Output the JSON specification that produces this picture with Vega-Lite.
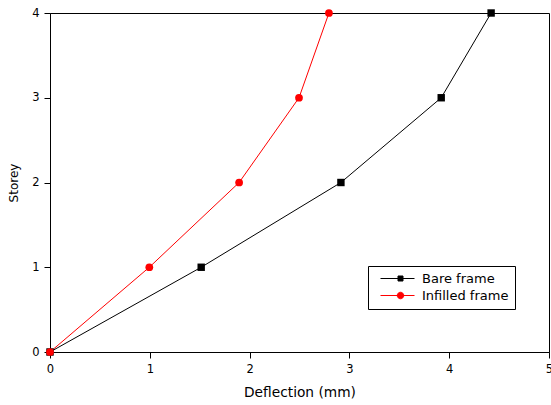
{
  "$schema": "https://vega.github.io/schema/vega-lite/v6.json",
  "width": 499,
  "height": 339,
  "autosize": {"type": "none"},
  "padding": {"left": 50, "top": 13, "right": 2, "bottom": 53},
  "background": "white",
  "config": {
    "view": {"stroke": "black", "strokeWidth": 1},
    "font": "DejaVu Sans",
    "axis": {
      "grid": false,
      "domainColor": "black",
      "tickColor": "black",
      "tickSize": 6,
      "labelColor": "black",
      "titleColor": "black",
      "labelFont": "DejaVu Sans",
      "titleFont": "DejaVu Sans",
      "labelFontSize": 11.5,
      "titleFontWeight": "normal",
      "labelOverlap": false,
      "labelFlush": false
    }
  },
  "data": {
    "values": [
      {"series": "Bare frame", "deflection": 0, "storey": 0},
      {"series": "Bare frame", "deflection": 1.515, "storey": 1},
      {"series": "Bare frame", "deflection": 2.915, "storey": 2},
      {"series": "Bare frame", "deflection": 3.92, "storey": 3},
      {"series": "Bare frame", "deflection": 4.42, "storey": 4},
      {"series": "Infilled frame", "deflection": 0, "storey": 0},
      {"series": "Infilled frame", "deflection": 0.995, "storey": 1},
      {"series": "Infilled frame", "deflection": 1.895, "storey": 2},
      {"series": "Infilled frame", "deflection": 2.495, "storey": 3},
      {"series": "Infilled frame", "deflection": 2.795, "storey": 4}
    ]
  },
  "encoding": {
    "x": {
      "field": "deflection",
      "type": "quantitative",
      "scale": {"domain": [0, 5], "nice": false, "zero": false},
      "axis": {"title": "Deflection (mm)", "titleFontSize": 13.75, "values": [0, 1, 2, 3, 4, 5], "labelPadding": 5, "titlePadding": 11}
    },
    "y": {
      "field": "storey",
      "type": "quantitative",
      "scale": {"domain": [0, 4], "nice": false, "zero": false},
      "axis": {"title": "Storey", "titleFontSize": 12, "values": [0, 1, 2, 3, 4], "labelPadding": 5, "titlePadding": 11}
    }
  },
  "layer": [
    {
      "mark": {"type": "line", "strokeWidth": 1},
      "encoding": {
        "color": {
          "field": "series",
          "type": "nominal",
          "scale": {"domain": ["Bare frame", "Infilled frame"], "range": ["#000000", "#ff0000"]},
          "legend": {
            "title": null,
            "orient": "none",
            "legendX": 318,
            "legendY": 253,
            "strokeColor": "black",
            "padding": 6,
            "symbolSize": 100,
            "labelOffset": 35,
            "labelFont": "DejaVu Sans",
            "labelFontSize": 13,
            "labelColor": "black",
            "rowPadding": 3,
            "encode": {
              "symbols": {
                "update": {
                  "shape": {"signal": "datum.value === 'Bare frame' ? 'M0,0H6.8M3.5,-0.5H4.5V0.5H3.5Z' : 'M0,0H6.8M4.65,0A0.65,0.65 0 1,1 3.35,0A0.65,0.65 0 1,1 4.65,0Z'"},
                  "stroke": {"signal": "datum.value === 'Bare frame' ? '#000000' : '#ff0000'"},
                  "fill": {"signal": "datum.value === 'Bare frame' ? '#000000' : '#ff0000'"},
                  "strokeWidth": {"value": 1},
                  "opacity": {"value": 1},
                  "size": {"value": 100}
                }
              }
            }
          }
        }
      }
    },
    {
      "transform": [{"filter": "datum.series === 'Bare frame'"}],
      "mark": {"type": "point", "shape": "square", "filled": true, "size": 55, "opacity": 1},
      "encoding": {
        "color": {"field": "series", "type": "nominal"}
      }
    },
    {
      "transform": [{"filter": "datum.series === 'Infilled frame'"}],
      "mark": {"type": "point", "shape": "circle", "filled": true, "size": 60, "opacity": 1},
      "encoding": {
        "color": {"field": "series", "type": "nominal"}
      }
    }
  ]
}
